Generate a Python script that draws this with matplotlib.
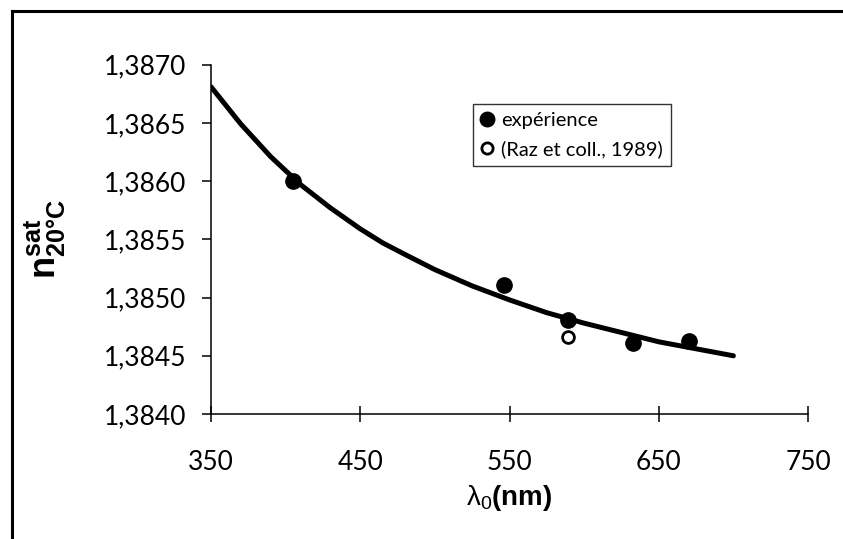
import matplotlib
matplotlib.use("Agg")
import matplotlib.pyplot as plt
from matplotlib.lines import Line2D

# data
wl_exp = [405, 546, 589, 633, 670]
n_exp = [1.38600, 1.38511, 1.38481, 1.38461, 1.38463]

wl_raz = [589]
n_raz = [1.38466]

# fitted curve
wl_fit = [350, 355, 360, 365, 370, 375, 380, 385, 390, 395, 400, 410, 420, 430, 440,
          450, 465, 480, 500, 525, 550, 575, 600, 625, 650, 675, 700]
n_fit = [1.38681, 1.38673, 1.38665, 1.38657, 1.38649, 1.38642, 1.38635, 1.38628,
         1.38621, 1.38615, 1.38609, 1.38597, 1.38587, 1.38577, 1.38568, 1.38559,
         1.38547, 1.38537, 1.38524, 1.38510, 1.38498, 1.38487, 1.38478, 1.38470,
         1.38462, 1.38456, 1.38450]

xticks = [350, 450, 550, 650, 750]
yticks = [1.3840, 1.3845, 1.3850, 1.3855, 1.3860, 1.3865, 1.3870]

plt.rcParams['font.family'] = ['Lato', 'DejaVu Sans']
plt.rcParams['mathtext.fontset'] = 'custom'
plt.rcParams['mathtext.rm'] = 'Liberation Sans'
plt.rcParams['mathtext.bf'] = 'Liberation Sans:bold'
plt.rcParams['mathtext.it'] = 'Liberation Sans'

fig = plt.figure(figsize=(8.43, 5.39), dpi=100)
ax = fig.add_axes([0.2503, 0.2319, 0.7082, 0.6481])

ax.plot(wl_fit, n_fit, color='black', lw=3.6, solid_capstyle='round',
        solid_joinstyle='round', zorder=2)
ax.plot(wl_exp, n_exp, 'o', color='black', ms=11, zorder=3, label='expérience')
ax.plot(wl_raz, n_raz, 'o', mfc='white', mec='black', mew=2, ms=8.5, zorder=3,
        label='(Raz et coll., 1989)')

ax.set_xlim(350, 750)
ax.set_ylim(1.3840, 1.3870)
ax.set_xticks(xticks)
ax.set_xticklabels([str(t) for t in xticks])
ax.set_yticks(yticks)
ax.set_yticklabels([('%.4f' % t).replace('.', ',') for t in yticks])

for s in ['top', 'right']:
    ax.spines[s].set_visible(False)
for s in ['left', 'bottom']:
    ax.spines[s].set_linewidth(1.1)

ax.tick_params(axis='y', direction='out', length=6.5, width=1.1, labelsize=19, pad=11)
ax.tick_params(axis='x', direction='inout', length=12, width=1.1, labelsize=19, pad=20)

ax.set_xlabel(r'$\mathrm{\lambda}_0$' + '(nm)', fontsize=20, fontweight='bold',
              family='Liberation Sans', labelpad=6)
ax.set_ylabel(r'$\mathbf{n}^{\mathbf{sat}}_{\mathbf{20°C}}$', fontsize=26, labelpad=26)

leg = ax.legend(loc='upper left', bbox_to_anchor=(473 / 843, 1 - 104 / 539),
                bbox_transform=fig.transFigure, fontsize=14.5, frameon=True,
                fancybox=False, edgecolor='black', handlelength=0.6,
                handletextpad=0.4, borderpad=0.4, labelspacing=0.55,
                markerscale=0.95, borderaxespad=0)
leg.get_frame().set_linewidth(1.0)

# outer frame (top and left edges only)
fig.add_artist(Line2D([12 / 843, 1], [1 - 11 / 539, 1 - 11 / 539], color='black', lw=2.2,
                      transform=fig.transFigure))
fig.add_artist(Line2D([12 / 843, 12 / 843], [0, 1 - 11 / 539], color='black', lw=2.2,
                      transform=fig.transFigure))

fig.savefig('out.png', dpi=100)
